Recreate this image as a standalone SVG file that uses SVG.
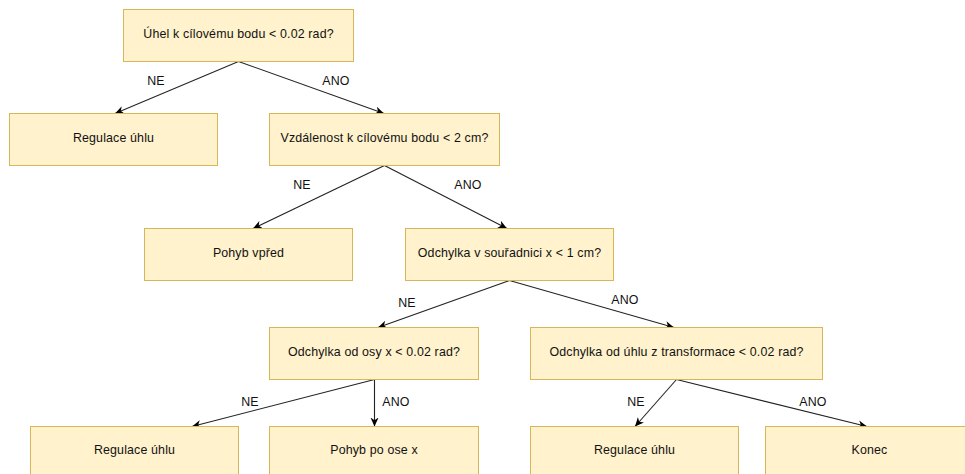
<svg xmlns="http://www.w3.org/2000/svg" width="965" height="474" viewBox="0 0 965 474">
<style>
.box{fill:#fff2cc;stroke:#d6b656;stroke-width:1}
.t{font-family:"Liberation Sans",Arial,Helvetica,sans-serif;font-size:12.4px;letter-spacing:0.15px;fill:#111;text-anchor:middle}
.e{fill:none;stroke:#222;stroke-width:1.1;marker-end:url(#arr)}
</style>
<defs>
<marker id="arr" viewBox="0 0 10 10" refX="10" refY="5" markerWidth="9" markerHeight="9" markerUnits="userSpaceOnUse" orient="auto">
<path d="M0,0.5 L10,5 L0,9.5 L3,5 z" fill="#000"/>
</marker>
</defs>
<rect width="965" height="474" fill="#fff"/>
<g id="edges">
<line class="e" x1="238.5" y1="61.5" x2="115" y2="113.5"/>
<line class="e" x1="238.5" y1="61.5" x2="384" y2="113.5"/>
<line class="e" x1="384.5" y1="165.5" x2="253" y2="228.5"/>
<line class="e" x1="384.5" y1="165.5" x2="507" y2="228.5"/>
<line class="e" x1="509.5" y1="280.5" x2="378" y2="327.5"/>
<line class="e" x1="509.5" y1="280.5" x2="674" y2="327.5"/>
<line class="e" x1="374.5" y1="379.5" x2="192" y2="426.5"/>
<line class="e" x1="374.5" y1="379.5" x2="374.5" y2="426.5"/>
<line class="e" x1="676.5" y1="379.5" x2="635" y2="426.5"/>
<line class="e" x1="676.5" y1="379.5" x2="867" y2="426.5"/>
<text class="t" x="156" y="85">NE</text>
<text class="t" x="336" y="85">ANO</text>
<text class="t" x="302" y="188.5">NE</text>
<text class="t" x="468" y="188.5">ANO</text>
<text class="t" x="407" y="306.5">NE</text>
<text class="t" x="625" y="303.5">ANO</text>
<text class="t" x="250" y="406">NE</text>
<text class="t" x="396" y="406">ANO</text>
<text class="t" x="636" y="406">NE</text>
<text class="t" x="813" y="406">ANO</text>
</g>
<g id="n1"><rect class="box" x="123.5" y="9.5" width="230" height="52"/><text class="t" x="238.5" y="37.5">Úhel k cílovému bodu &lt; 0.02 rad?</text></g>
<g id="n2"><rect class="box" x="9.5" y="113.5" width="208" height="52"/><text class="t" x="113.5" y="141.5">Regulace úhlu</text></g>
<g id="n3"><rect class="box" x="269.5" y="113.5" width="230" height="52"/><text class="t" x="384.5" y="141.5">Vzdálenost k cílovému bodu &lt; 2 cm?</text></g>
<g id="n4"><rect class="box" x="144.5" y="228.5" width="208" height="52"/><text class="t" x="248.5" y="256.5">Pohyb vpřed</text></g>
<g id="n5"><rect class="box" x="405.5" y="228.5" width="208" height="52"/><text class="t" x="509.5" y="256.5">Odchylka v souřadnici x &lt; 1 cm?</text></g>
<g id="n6"><rect class="box" x="269.5" y="327.5" width="209" height="52"/><text class="t" x="374" y="355.5">Odchylka od osy x &lt; 0.02 rad?</text></g>
<g id="n7"><rect class="box" x="530.5" y="327.5" width="292" height="52"/><text class="t" x="676.5" y="355.5">Odchylka od úhlu z transformace &lt; 0.02 rad?</text></g>
<g id="n8"><rect class="box" x="30.5" y="426.5" width="208" height="52"/><text class="t" x="134.5" y="454">Regulace úhlu</text></g>
<g id="n9"><rect class="box" x="269.5" y="426.5" width="209" height="52"/><text class="t" x="374" y="454">Pohyb po ose x</text></g>
<g id="n10"><rect class="box" x="530.5" y="426.5" width="208" height="52"/><text class="t" x="634.5" y="454">Regulace úhlu</text></g>
<g id="n11"><rect class="box" x="765.5" y="426.5" width="208" height="52"/><text class="t" x="869.5" y="454">Konec</text></g>
</svg>
